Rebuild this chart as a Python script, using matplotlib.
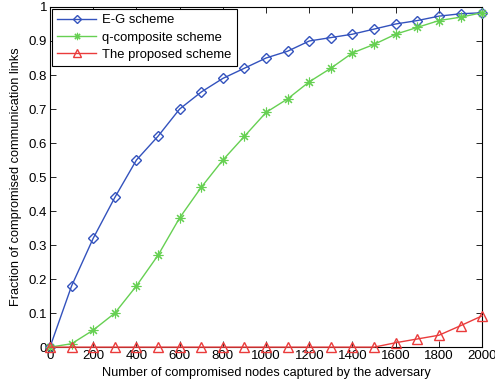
import numpy as np
import matplotlib
matplotlib.use('Agg')
import matplotlib.pyplot as plt

nodes = np.arange(0, 2001, 100)
eg = [0, 0.18, 0.32, 0.44, 0.55, 0.62, 0.70, 0.75, 0.79, 0.82, 0.85,
      0.87, 0.90, 0.91, 0.92, 0.935, 0.95, 0.96, 0.973, 0.98, 0.983]
qcomp = [0, 0.01, 0.05, 0.10, 0.18, 0.27, 0.38, 0.47, 0.55, 0.62, 0.69,
         0.73, 0.78, 0.82, 0.865, 0.89, 0.92, 0.94, 0.96, 0.97, 0.983]
proposed = [0, 0, 0, 0, 0, 0, 0, 0, 0, 0, 0,
            0, 0, 0, 0, 0, 0.013, 0.024, 0.035, 0.063, 0.092]

plt.rcParams['font.family'] = ['Liberation Sans', 'DejaVu Sans']

fig = plt.figure(figsize=(4.95, 3.87), dpi=100)
ax = fig.add_axes([0.101, 0.103, 0.873, 0.879])

blue = '#3352bd'
green = '#66d052'
red = '#ea3b3b'

ax.plot(nodes, eg, color=blue, lw=1, marker='D', markersize=5.5,
        mfc='none', mec=blue, mew=1, label='E-G scheme', clip_on=False, zorder=3)
ax.plot(nodes, qcomp, color=green, lw=1, marker=(8, 2, 0), markersize=7,
        mfc=green, mec=green, mew=0.8, label='q-composite scheme', clip_on=False, zorder=3)
ax.plot(nodes, proposed, color=red, lw=1, marker='^', markersize=7,
        mfc='none', mec=red, mew=1, label='The proposed scheme', clip_on=False, zorder=3)

ax.set_xlim(0, 2000)
ax.set_ylim(0, 1)
ax.set_xticks(np.arange(0, 2001, 200))
ax.set_yticks(np.arange(0, 1.01, 0.1))
ax.set_yticklabels(['0', '0.1', '0.2', '0.3', '0.4', '0.5', '0.6', '0.7', '0.8', '0.9', '1'])
ax.tick_params(direction='in', top=True, right=True, labelsize=9.5, length=4.5, width=0.6, pad=2)
for s in ax.spines.values():
    s.set_linewidth(0.8)

ax.set_xlabel('Number of compromised nodes captured by the adversary', fontsize=9.2, labelpad=4)
ax.set_ylabel('Fraction of compromised communication links', fontsize=9.2, labelpad=5)

leg = ax.legend(loc='upper left', fontsize=9.4, fancybox=False, edgecolor='black',
                borderaxespad=0.15, handlelength=3.0, borderpad=0.4, labelspacing=0.4,
                handletextpad=0.45, markerscale=0.75)
leg.get_frame().set_linewidth(0.8)
leg.get_frame().set_alpha(1)

plt.savefig('out.png', dpi=100)
